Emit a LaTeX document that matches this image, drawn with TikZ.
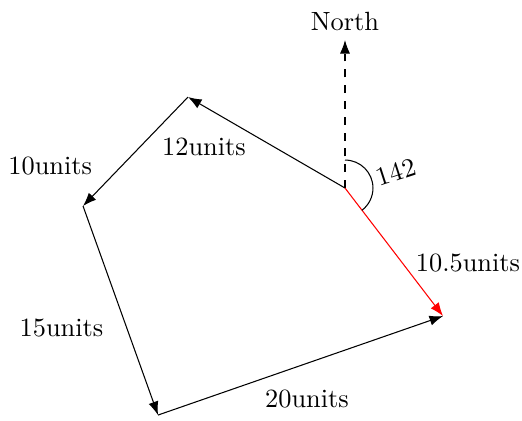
\documentclass[tikz,border=0pt]{standalone}
\usepackage{amsmath,amssymb}
\usetikzlibrary{arrows.meta}

\begin{document}
\begin{tikzpicture}[every node/.style={font=\normalsize}, >={Latex[length=1.8mm]}]
	\useasboundingbox (-4.6,-3.093) rectangle (2.36,2.507);
	\coordinate (start) at (0,0);
	\coordinate (north) at (0,1.973);
	\coordinate (p1) at (-2.093,1.213);
	\coordinate (p2) at (-3.493,-0.24);
	\coordinate (p3) at (-2.493,-3.027);
	\coordinate (p4) at (1.307,-1.707);
	\draw[->, dashed] (start) -- (north) node[above] (lblnorth) {North};
	\draw[->] (start) -- (p1);
	\draw[->] (p1) -- (p2);
	\draw[->] (p2) -- (p3);
	\draw[->] (p3) -- (p4);
	\draw[->, red] (start) -- (p4);
	\draw (0,0.373) arc[start angle=90, end angle=-52.6, radius=0.373];
	\node (lbl12) at (-1.88,0.547) {12units};
	\node (lbl10) at (-3.93,0.293) {10units};
	\node (lbl15) at (-3.78,-1.867) {15units};
	\node (lbl20) at (-0.507,-2.813) {20units};
	\node (lbl105) at (1.64,-1.0) {10.5units};
	\node[rotate=18] (lblangle) at (0.68,0.213) {142};
\end{tikzpicture}
\end{document}
